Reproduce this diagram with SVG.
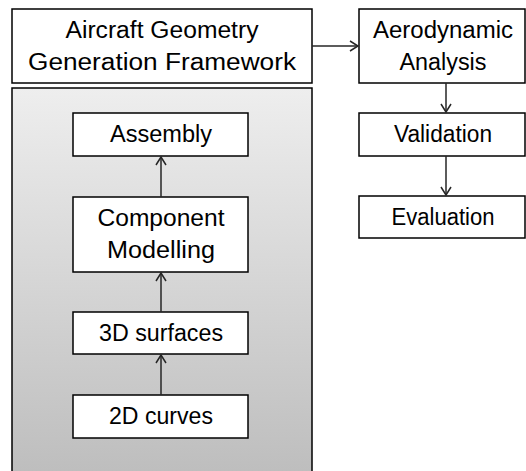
<svg xmlns="http://www.w3.org/2000/svg" width="526" height="471" viewBox="0 0 526 471">
<style>
.box{fill:#ffffff;stroke:#000000;stroke-width:1.5}
.t{font-family:"Liberation Sans",Arial,sans-serif;font-size:23px;fill:#000000;text-anchor:middle}
.c{stroke:#262626;stroke-width:1.5;fill:none}
</style>
<defs>
<linearGradient id="g" x1="0" y1="0" x2="0" y2="1">
<stop offset="0" stop-color="#eeeeee"/>
<stop offset="1" stop-color="#bdbdbd"/>
</linearGradient>
<marker id="a" markerWidth="12" markerHeight="12" refX="10" refY="6" orient="auto" markerUnits="userSpaceOnUse">
<path d="M2,1 L10,6 L2,11" fill="none" stroke="#262626" stroke-width="1.5"/>
</marker>
</defs>
<rect id="panel" x="12" y="88" width="300" height="390" fill="url(#g)" stroke="#000000" stroke-width="1.5"/>
<g id="framework">
<rect class="box" x="12" y="9" width="300" height="74"/>
<text class="t" x="162" y="38" textLength="193" lengthAdjust="spacingAndGlyphs">Aircraft Geometry</text>
<text class="t" x="162" y="70" textLength="268" lengthAdjust="spacingAndGlyphs">Generation Framework</text>
</g>
<g id="aero">
<rect class="box" x="359" y="9" width="166" height="74"/>
<text class="t" x="443" y="38" textLength="140" lengthAdjust="spacingAndGlyphs">Aerodynamic</text>
<text class="t" x="443" y="70" textLength="87" lengthAdjust="spacingAndGlyphs">Analysis</text>
</g>
<g id="validation">
<rect class="box" x="359" y="113" width="166" height="43"/>
<text class="t" x="443" y="142" textLength="98" lengthAdjust="spacingAndGlyphs">Validation</text>
</g>
<g id="evaluation">
<rect class="box" x="359" y="196" width="166" height="42"/>
<text class="t" x="443" y="225" textLength="103" lengthAdjust="spacingAndGlyphs">Evaluation</text>
</g>
<g id="assembly">
<rect class="box" x="73" y="113" width="175" height="43"/>
<text class="t" x="161" y="142" textLength="102" lengthAdjust="spacingAndGlyphs">Assembly</text>
</g>
<g id="component">
<rect class="box" x="73" y="197" width="175" height="75"/>
<text class="t" x="161" y="226" textLength="127" lengthAdjust="spacingAndGlyphs">Component</text>
<text class="t" x="161" y="258" textLength="108" lengthAdjust="spacingAndGlyphs">Modelling</text>
</g>
<g id="surfaces">
<rect class="box" x="73" y="312" width="175" height="42"/>
<text class="t" x="161" y="341" textLength="124" lengthAdjust="spacingAndGlyphs">3D surfaces</text>
</g>
<g id="curves">
<rect class="box" x="73" y="395" width="175" height="43"/>
<text class="t" x="161" y="424" textLength="104" lengthAdjust="spacingAndGlyphs">2D curves</text>
</g>
<g id="connectors">
<line class="c" x1="312" y1="46" x2="358" y2="46" marker-end="url(#a)"/>
<line class="c" x1="446" y1="83" x2="446" y2="112" marker-end="url(#a)"/>
<line class="c" x1="446" y1="156" x2="446" y2="195" marker-end="url(#a)"/>
<line class="c" x1="161" y1="197" x2="161" y2="157" marker-end="url(#a)"/>
<line class="c" x1="161" y1="312" x2="161" y2="273" marker-end="url(#a)"/>
<line class="c" x1="161" y1="395" x2="161" y2="355" marker-end="url(#a)"/>
</g>
</svg>
